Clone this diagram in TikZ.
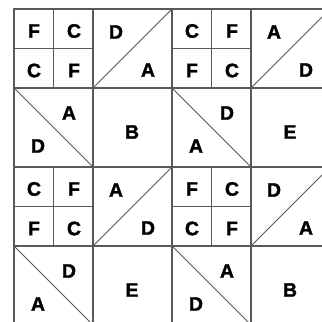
\documentclass[tikz,border=0pt]{standalone}
\usepackage{fontspec}
\setmainfont{Liberation Sans}
\newfontfamily\labfont[BoldFeatures={FakeBold=1.5}]{Liberation Sans}
\newcommand\labsize{\labfont\bfseries\fontsize{19.5pt}{20pt}\selectfont}
\newcommand\fourpatch[7]{%
  \draw[gridline] (#1,#2) rectangle ++(79,79);
  \draw[gridline] (#1+39.5,#2) -- ++(0,79) (#1,#2+39.5) -- ++(79,0);
  \node[lab] (#7tl) at (#1+20,#2+22) {#3};
  \node[lab] (#7tr) at (#1+60,#2+22) {#4};
  \node[lab] (#7bl) at (#1+20,#2+61.5) {#5};
  \node[lab] (#7br) at (#1+60,#2+61.5) {#6};
}
\newcommand\hstup[5]{% diagonal bottom-left to top-right
  \draw[gridline] (#1,#2) rectangle ++(79,79);
  \draw[diagline] (#1,#2+79) -- (#1+79,#2);
  \node[lab] (#5tl) at (#1+23,#2+23) {#3};
  \node[lab] (#5br) at (#1+55,#2+61) {#4};
}
\newcommand\hstdown[5]{% diagonal top-left to bottom-right
  \draw[gridline] (#1,#2) rectangle ++(79,79);
  \draw[diagline] (#1,#2) -- (#1+79,#2+79);
  \node[lab] (#5tr) at (#1+55,#2+25) {#3};
  \node[lab] (#5bl) at (#1+24,#2+58) {#4};
}
\newcommand\plainblock[4]{%
  \draw[gridline] (#1,#2) rectangle ++(79,79);
  \node[lab] (#4c) at (#1+39,#2+44) {#3};
}
\begin{document}
\begin{tikzpicture}[x=1pt,y=-1pt,
  gridline/.style={draw=black!65, line width=1.1pt},
  diagline/.style={draw=black!65, line width=0.75pt},
  lab/.style={font=\labsize, inner sep=0pt, text=black}]
\useasboundingbox (0,0) rectangle (322,322);
\fill[white] (0,0) rectangle (322,322);
\clip (0,0) rectangle (322,322);
% row 0
\fourpatch{14}{9}{F}{C}{C}{F}{ba}
\hstup{93}{9}{D}{A}{bb}
\fourpatch{172}{9}{C}{F}{F}{C}{bc}
\hstup{251}{9}{A}{D}{bd}
% row 1
\hstdown{14}{88}{A}{D}{be}
\plainblock{93}{88}{B}{bf}
\hstdown{172}{88}{D}{A}{bg}
\plainblock{251}{88}{E}{bh}
% row 2
\fourpatch{14}{167}{C}{F}{F}{C}{bi}
\hstup{93}{167}{A}{D}{bj}
\fourpatch{172}{167}{F}{C}{C}{F}{bk}
\hstup{251}{167}{D}{A}{bl}
% row 3
\hstdown{14}{246}{D}{A}{bm}
\plainblock{93}{246}{E}{bn}
\hstdown{172}{246}{A}{D}{bo}
\plainblock{251}{246}{B}{bp}
\end{tikzpicture}
\end{document}
